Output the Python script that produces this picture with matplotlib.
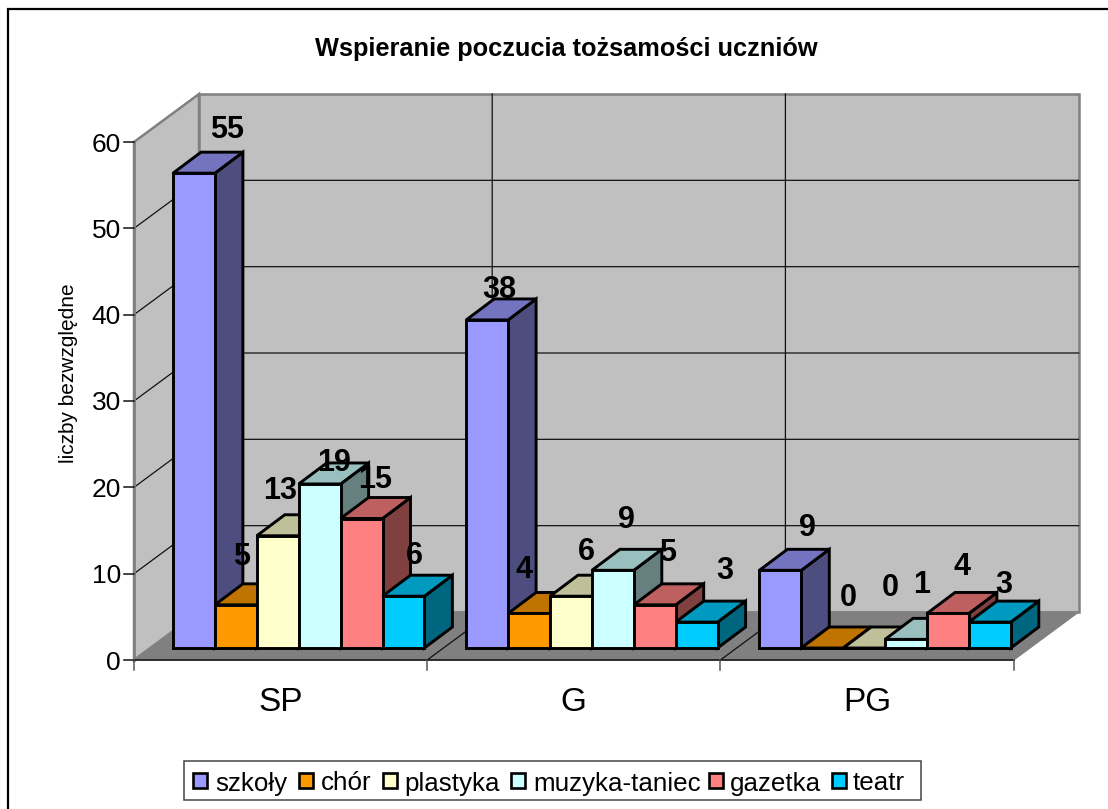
import matplotlib
matplotlib.use('Agg')
import matplotlib.pyplot as plt
from matplotlib.patches import Polygon, Rectangle

plt.rcParams['font.family'] = ['Liberation Sans', 'DejaVu Sans']

title = 'Wspieranie poczucia tożsamości uczniów'
ylabel = 'liczby bezwzględne'
categories = ['SP', 'G', 'PG']
y_ticks = [0, 10, 20, 30, 40, 50, 60]
szkoly = [55, 38, 9]
chor = [5, 4, 0]
plastyka = [13, 6, 0]
muzyka = [19, 9, 1]
gazetka = [15, 5, 4]
teatr = [6, 3, 3]
series_names = ['szkoły', 'chór', 'plastyka', 'muzyka-taniec', 'gazetka', 'teatr']
series_values = [szkoly, chor, plastyka, muzyka, gazetka, teatr]
colors = ['#9999FF', '#FF9900', '#FFFFCC', '#CCFFFF', '#FF8080', '#00CCFF']
tops = ['#7373BF', '#BF7300', '#BFBF99', '#99BFBF', '#BF6060', '#0099BF']
sides = ['#4D4D80', '#804D00', '#808066', '#668080', '#804040', '#006680']

# layout, in pixels of the reference picture
W, H = 1108, 809
X0, Y0 = 134, 660       # front corner of the floor
CAT_W = 293.2
UNIT = 518 / 60         # pixels per value unit
WALL_DX, WALL_DY = 65, 48
BAR_W = 41.9
BAR_DX, BAR_DY = 28, 21
BAR_X, BAR_Y = 39, 12   # where a group starts, from the front corner

# label nudges from the back of the bar top, by category then series
label_dx = [[5, -22, -26, -14, -14, -17],
            [-16, -33, -13, -14, -15, 0],
            [-1, -2, -2, -12, -14, -14]]
label_dy = [[2, 6, 3, -21, -3, -1],
            [-12, 2, 3, 9, 10, 10],
            [1, 9, 18, 13, 5, -4]]

fig = plt.figure(figsize=(W / 100, H / 100), dpi=100)
ax = fig.add_axes([0, 0, 1, 1])
# x in categories, y in values, so the marks go through the data scale
ax.set_xlim(-X0 / CAT_W, (W - X0) / CAT_W)
ax.set_ylim(-(H - Y0) / UNIT, Y0 / UNIT)
ax.axis('off')

ddx, ddy = WALL_DX / CAT_W, WALL_DY / UNIT
bdx, bdy = BAR_DX / CAT_W, BAR_DY / UNIT
bar_w = BAR_W / CAT_W
n_cat = len(categories)
y_max = y_ticks[-1]
px = 1 / CAT_W
py = 1 / UNIT

# frame of the picture (left and top only show)
ax.plot([(8 - X0) * px, (8 - X0) * px, (W - X0) * px],
        [-(H - Y0) * py, (Y0 - 9) * py, (Y0 - 9) * py],
        color='black', lw=1.6, zorder=1, solid_joinstyle='miter')

gray = '#808080'
# walls and floor
ax.add_patch(Polygon([(0, 0), (ddx, ddy), (ddx, y_max + ddy), (0, y_max)],
                     fc='#C0C0C0', ec=gray, lw=1.8, zorder=2))
ax.add_patch(Polygon([(ddx, 0 + ddy), (n_cat + ddx, ddy), (n_cat + ddx, y_max + ddy), (ddx, y_max + ddy)],
                     fc='#C0C0C0', ec=gray, lw=1.8, zorder=2))
ax.add_patch(Polygon([(0, 0), (n_cat, 0), (n_cat + ddx, ddy), (ddx, ddy)],
                     fc=gray, ec=gray, lw=1, zorder=2))

# gridlines on both walls
for v in y_ticks[1:-1]:
    ax.plot([0, ddx, n_cat + ddx], [v, v + ddy, v + ddy], color='#111111', lw=0.9, zorder=3)
for c in range(1, n_cat):
    ax.plot([c, c + ddx, c + ddx], [0, ddy, y_max + ddy], color='#111111', lw=0.9, zorder=3)

# axes and ticks
ax.plot([0, 0], [0, y_max], color=gray, lw=2, zorder=4)
ax.plot([0, n_cat], [0, 0], color='#111111', lw=1.1, zorder=4)
for v in y_ticks:
    ax.plot([-10 * px, 0], [v, v], color='#111111', lw=1.1, zorder=4)
    ax.text(-13 * px, v, str(v), ha='right', va='center_baseline', fontsize=19, zorder=4)
for c in range(n_cat + 1):
    ax.plot([c, c], [0, -10 * py], color='#555555', lw=1.1, zorder=4)
for c, name in enumerate(categories):
    ax.text(c + 0.5, -39 * py, name, ha='center', va='center_baseline', fontsize=24)

ax.text((69 - X0) * px, (Y0 - 373) * py, ylabel, rotation=90, ha='center', va='center', fontsize=15)
ax.text((566 - X0) * px, (Y0 - 49) * py, title, ha='center', va='center', fontsize=18.3, fontweight='bold')

# bars, painted left to right
for c in range(n_cat):
    for s, values in enumerate(series_values):
        v = values[c]
        x = c + BAR_X * px + s * bar_w
        b = BAR_Y * py
        style = dict(ec='black', lw=2.1, joinstyle='miter', zorder=5)
        ax.add_patch(Polygon([(x + bar_w, b), (x + bar_w + bdx, b + bdy),
                              (x + bar_w + bdx, b + v + bdy), (x + bar_w, b + v)],
                             fc=sides[s], **style))
        ax.add_patch(Polygon([(x, b + v), (x + bar_w, b + v),
                              (x + bar_w + bdx, b + v + bdy), (x + bdx, b + v + bdy)],
                             fc=tops[s], **style))
        ax.add_patch(Rectangle((x, b), bar_w, v, fc=colors[s], **style))

# value labels above everything
for c in range(n_cat):
    for s, values in enumerate(series_values):
        v = values[c]
        x = c + BAR_X * px + (s + 0.5) * bar_w + bdx + label_dx[c][s] * px
        y = BAR_Y * py + v + bdy + (24 + label_dy[c][s]) * py
        ax.text(x, y, str(v), ha='center', va='center_baseline', fontsize=22,
                fontweight='bold', zorder=6)

# legend, laid out by hand to sit in the same box
ax.add_patch(Rectangle(((184 - X0) * px, (Y0 - 800) * py), 737 * px, 39 * py,
                       fc='white', ec='#444444', lw=1.1, zorder=5))
swatch_x = [193, 299, 383, 511, 709, 832]
legend_text_x = [215, 321, 404, 533, 730, 853]
for name, col, sx, tx in zip(series_names, colors, swatch_x, legend_text_x):
    ax.add_patch(Rectangle(((sx - X0) * px, (Y0 - 788) * py), 14 * px, 15 * py,
                           fc=col, ec='black', lw=1.9, zorder=6))
    ax.text((tx - X0) * px, (Y0 - 781) * py, name, ha='left', va='center_baseline',
            fontsize=18.7, zorder=6)

fig.savefig('out.png', dpi=100)
